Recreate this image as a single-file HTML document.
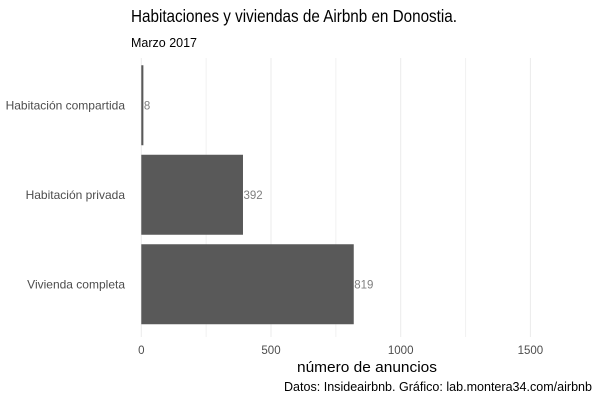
<!DOCTYPE html>
<html><head><meta charset="utf-8"><style>
body{margin:0;background:#fff}
svg text{font-family:"Liberation Sans Narrow","Liberation Sans",sans-serif}
</style></head><body>
<svg id="chart" width="600" height="400" viewBox="0 0 600 400" xmlns="http://www.w3.org/2000/svg">
<text x="131" y="22" font-size="17.5" fill="#000" textLength="326" lengthAdjust="spacingAndGlyphs">Habitaciones y viviendas de Airbnb en Donostia.</text>
<text x="131" y="47" font-size="13" fill="#000" textLength="66" lengthAdjust="spacingAndGlyphs">Marzo 2017</text>
<g id="grid"></g>
<g id="bars"></g>
<g id="labels"></g>
<text x="367" y="372" font-size="15" text-anchor="middle" fill="#000" textLength="140" lengthAdjust="spacingAndGlyphs">número de anuncios</text>
<text x="592" y="391" font-size="13" text-anchor="end" fill="#000" textLength="308" lengthAdjust="spacingAndGlyphs">Datos: Insideairbnb. Gráfico: lab.montera34.com/airbnb</text>
</svg>
<script>
const categories = ["Habitación compartida","Habitación privada","Vivienda completa"];
const values = [8, 392, 819];
const ticks = [0, 500, 1000, 1500];
const minorTicks = [250, 750, 1250];
const NS="http://www.w3.org/2000/svg";
const x0=141.3, k=0.2594;
const xs=v=>x0+v*k;
const bandTop=60.5, bandStep=89.5, barH=80;
const yc=i=>bandTop+bandStep*i+bandStep/2;
function mk(t,a,p){const e=document.createElementNS(NS,t);for(const q in a)e.setAttribute(q,a[q]);p.appendChild(e);return e;}
const grid=document.getElementById('grid'),bars=document.getElementById('bars'),labels=document.getElementById('labels');
minorTicks.forEach(t=>{const x=xs(t);
 const l=mk('line',{x1:x,x2:x,y1:58,y2:337,stroke:'#f2f2f2','stroke-width':1},grid);
 
 });
ticks.forEach(t=>{const x=xs(t);
 const l=mk('line',{x1:x,x2:x,y1:58,y2:337,stroke:'#ebebeb','stroke-width':1},grid);
 
 
 const tx=mk('text',{x:x,y:354,'font-size':11.5,'text-anchor':'middle',fill:'#4d4d4d'},labels);
 tx.textContent=t;
 
 });
categories.forEach((c,i)=>{const y=yc(i);
 const r=mk('rect',{x:x0,y:y-barH/2,width:values[i]*k,height:barH,fill:'#595959'},bars);
 
 
 const v=mk('text',{x:xs(values[i])+0.5,y:y+4,'font-size':11.5,fill:'#7f7f7f'},labels);
 v.textContent=values[i];
 
 
 const cl=mk('text',{x:125,y:y+4,'font-size':12,'text-anchor':'end',fill:'#4d4d4d'},labels);
 cl.textContent=c;
 
 });
</script>
</body></html>
